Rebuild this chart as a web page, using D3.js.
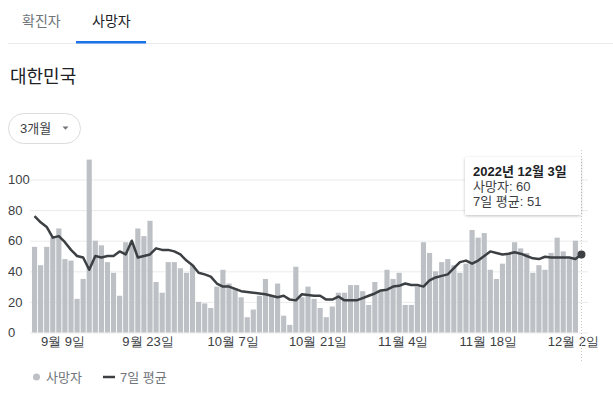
<!DOCTYPE html>
<html>
<head>
<meta charset="utf-8">
<script src="https://cdn.jsdelivr.net/npm/d3@7"></script>
<style>
body { margin: 0; background: #fff; }
svg { display: block; font-family: Arial, "Liberation Sans", "Noto Sans CJK KR", sans-serif; }
</style>
</head>
<body>
<div id="chart"></div>
<script>
// daily deaths, Korea, 2022-09-04 .. 2022-12-03 (null = no report)
var startDay = "2022-09-04";
var deaths = [
    56, 44, 56, 62, 68, 48, 47, 22, 35, null,
    113, 60, 57, 46, 39, 24, 59, 59, 68, 63,
    73, 33, 26, 46, 46, 42, 39, 44, 20, 19,
    16, 30, 41, 32, 29, 23, 10, 15, 24, 35,
    24, 32, 11, 5, 43, 23, 30, 22, 16, 10,
    17, 26, 26, 31, 31, 27, 18, 33, 28, 41,
    35, 39, 18, 18, 30, 59, 52, 40, 46, 48,
    44, 39, 45, 67, 62, 65, 41, 35, 45, 52,
    59, 55, 52, 39, 44, 41, 52, 62, 53, 48,
    60
];
// 7 day average line
var avg7 = [
    76, 72, 69, 62, 63, 59, 54, 50, 49, 41,
    50, 49, 50, 50, 53, 51, 60, 49, 50, 51,
    55, 54, 54, 53, 51, 47, 44, 39, 38, 36.5,
    32, 30, 30, 28.5, 27, 26.5, 26, 25.5, 25, 24,
    23, 24, 21.5, 21, 25, 24.5, 24, 24, 21.5, 21.5,
    23.5, 21, 21, 21, 22.5, 24, 25.5, 27.5, 28, 30,
    30.5, 32, 31, 31, 30, 34, 36, 37, 38, 42,
    46, 47, 45, 47, 50, 53, 52, 51, 51.5, 52.5,
    51.5, 50, 48.5, 48, 49.5, 49, 49, 49, 49, 48,
    51
];
var yTicks = [0, 20, 40, 60, 80, 100];
var tickDays = ["2022-09-09", "2022-09-23", "2022-10-07", "2022-10-21", "2022-11-04", "2022-11-18", "2022-12-02"];
var tickLabels = ["9월 9일", "9월 23일", "10월 7일", "10월 21일", "11월 4일", "11월 18일", "12월 2일"];
var tabs = ["확진자", "사망자"];
var tipLines = ["2022년 12월 3일", "사망자: 60", "7일 평균: 51"];
var legendNames = ["사망자", "7일 평균"];

var fmt = d3.timeFormat("%Y-%m-%d");
var parse = d3.timeParse("%Y-%m-%d");
var days = d3.timeDay.range(parse(startDay), d3.timeDay.offset(parse(startDay), deaths.length)).map(fmt);

var svg = d3.select("#chart").append("svg")
    .attr("width", 613)
    .attr("height", 395);

// tabs
svg.append("text").attr("x", 22).attr("y", 26).attr("font-size", "14px").attr("fill", "#70757a").text(tabs[0]);
svg.append("text").attr("x", 92).attr("y", 26).attr("font-size", "14px").attr("fill", "#202124").text(tabs[1]);
svg.append("rect").attr("x", 8).attr("y", 43).attr("width", 605).attr("height", 1).attr("fill", "#ebebeb");
svg.append("rect").attr("x", 76).attr("y", 41).attr("width", 70).attr("height", 2.5).attr("fill", "#1a73e8");

// title
svg.append("text").attr("x", 10).attr("y", 83).attr("font-size", "18px").attr("fill", "#202124").text("대한민국");

// period button
svg.append("rect").attr("x", 8.5).attr("y", 113.5).attr("width", 72).attr("height", 30).attr("rx", 15)
    .attr("fill", "#fff").attr("stroke", "#dadce0");
svg.append("text").attr("x", 20).attr("y", 133).attr("font-size", "13px").attr("fill", "#3c4043").text("3개월");
svg.append("path").attr("d", "M62.5,126.5 L68.5,126.5 L65.5,129.8 Z").attr("fill", "#70757a");

var x = d3.scaleBand()
    .domain(days)
    .range([31.5, 584.5])
    .paddingInner(0.15)
    .paddingOuter(0.075);
var y = d3.scaleLinear()
    .domain([0, 100])
    .range([332.5, 179.5]);
var bw = x.bandwidth();

// y grid + labels
var yAxis = svg.append("g")
    .attr("transform", "translate(30,0)")
    .call(d3.axisLeft(y).tickValues(yTicks).tickSize(-558).tickFormat(d3.format("d")));
yAxis.select(".domain").remove();
yAxis.selectAll("line").attr("stroke", "#ebebeb");
yAxis.selectAll("text")
    .attr("x", -22)
    .attr("text-anchor", "start")
    .attr("font-size", "13px")
    .attr("font-family", null)
    .attr("fill", "#3c4043");

// bars
svg.append("g").selectAll("rect")
    .data(deaths)
    .enter()
    .filter(function(d){ return d != null; })
    .append("rect")
    .attr("x", function(d, i){ return x(days[i]); })
    .attr("y", function(d){ return y(d); })
    .attr("width", bw)
    .attr("height", function(d){ return y(0) - y(d); })
    .attr("fill", "#bdc1c6");

// x axis labels
var xAxis = svg.append("g")
    .attr("transform", "translate(0," + y(0) + ")")
    .call(d3.axisBottom(x).tickValues(tickDays).tickSize(0).tickPadding(4)
        .tickFormat(function(d, i){ return tickLabels[i]; }));
xAxis.select(".domain").remove();
xAxis.selectAll("text")
    .attr("dx", "-2")
    .attr("font-size", "13px")
    .attr("font-family", null)
    .attr("fill", "#3c4043");

// hover guide
var lastX = x(days[days.length - 1]) + bw / 2;
svg.append("line")
    .attr("x1", lastX).attr("x2", lastX)
    .attr("y1", 150).attr("y2", 362)
    .attr("stroke", "#c8c8c8")
    .attr("stroke-dasharray", "1,2");

// 7 day average
var line = d3.line()
    .x(function(d, i){ return x(days[i]) + bw / 2; })
    .y(function(d){ return y(d); });
svg.append("path")
    .datum(avg7)
    .attr("d", line)
    .attr("fill", "none")
    .attr("stroke", "#3c4043")
    .attr("stroke-width", 2.5)
    .attr("stroke-linejoin", "round");
svg.append("circle")
    .attr("cx", lastX)
    .attr("cy", y(avg7[avg7.length - 1]))
    .attr("r", 4)
    .attr("fill", "#3c4043");

// tooltip
var defs = svg.append("defs");
defs.append("filter").attr("id", "shadow")
    .attr("x", "-20%").attr("y", "-20%").attr("width", "140%").attr("height", "150%")
    .append("feDropShadow")
    .attr("dx", 0).attr("dy", 1).attr("stdDeviation", 1.5)
    .attr("flood-color", "#000").attr("flood-opacity", 0.25);
svg.append("rect")
    .attr("x", 465).attr("y", 157)
    .attr("width", 116).attr("height", 58)
    .attr("rx", 2)
    .attr("fill", "#fff")
    .attr("filter", "url(#shadow)");
svg.append("text").attr("x", 473).attr("y", 176).attr("font-size", "13px").attr("font-weight", "bold")
    .attr("fill", "#202124").text(tipLines[0]);
svg.append("text").attr("x", 473).attr("y", 191).attr("font-size", "13px")
    .attr("fill", "#3c4043").text(tipLines[1]);
svg.append("text").attr("x", 473).attr("y", 206).attr("font-size", "13px")
    .attr("fill", "#3c4043").text(tipLines[2]);

// legend
svg.append("circle").attr("cx", 36.5).attr("cy", 377).attr("r", 3.5).attr("fill", "#bdc1c6");
svg.append("text").attr("x", 46).attr("y", 382).attr("font-size", "13px").attr("fill", "#70757a").text(legendNames[0]);
svg.append("line").attr("x1", 103).attr("x2", 115).attr("y1", 377).attr("y2", 377)
    .attr("stroke", "#3c4043").attr("stroke-width", 2.5);
svg.append("text").attr("x", 120).attr("y", 382).attr("font-size", "13px").attr("fill", "#70757a").text(legendNames[1]);
</script>
</body>
</html>
